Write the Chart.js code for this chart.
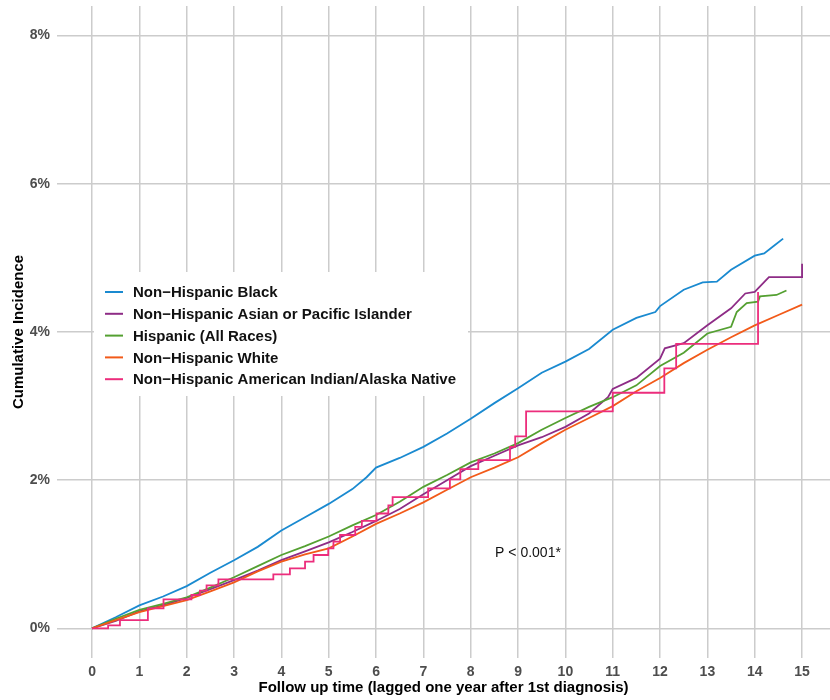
<!DOCTYPE html>
<html>
<head>
<meta charset="utf-8">
<script src="https://cdn.jsdelivr.net/npm/chart.js@4.4.1/dist/chart.umd.min.js"></script>
<style>
html,body{margin:0;padding:0;background:#ffffff;}
#wrap{width:830px;height:700px;position:relative;}
</style>
</head>
<body>
<div id="wrap"><canvas id="c" width="830" height="700"></canvas></div>
<script>
// ---- data (years of follow-up, cumulative incidence in %) ----
const seriesNames = [
  "Non\u2212Hispanic Black",
  "Non\u2212Hispanic Asian or Pacific Islander",
  "Hispanic (All Races)",
  "Non\u2212Hispanic White",
  "Non\u2212Hispanic American Indian/Alaska Native"
];
const seriesColors = ["#1a8ad0", "#8e2c86", "#54a031", "#f25a19", "#ec2d7c"];

const blackT = [0,0.5,1,1.5,2,2.5,3,3.5,4,4.5,5,5.5,5.8,6,6.5,7,7.5,8,8.5,9,9.5,10,10.5,11,11.5,11.9,12,12.5,12.9,13.2,13.5,14,14.2,14.4,14.6];
const blackV = [0,0.15,0.31,0.43,0.57,0.75,0.92,1.1,1.32,1.5,1.68,1.88,2.04,2.17,2.3,2.45,2.63,2.83,3.04,3.24,3.45,3.6,3.77,4.03,4.19,4.27,4.35,4.57,4.67,4.68,4.84,5.03,5.06,5.16,5.26];

const asianT = [0,0.5,1,1.5,2,2.5,3,3.5,4,4.5,5,5.5,6,6.5,7,7.5,8,8.5,9,9.5,10,10.5,10.9,11,11.5,12,12.1,12.5,13,13.5,13.8,14,14.3,15,15];
const asianV = [0,0.1,0.23,0.31,0.41,0.53,0.65,0.78,0.92,1.04,1.16,1.3,1.45,1.61,1.81,2.0,2.19,2.33,2.47,2.58,2.72,2.9,3.12,3.23,3.38,3.64,3.78,3.85,4.09,4.32,4.52,4.54,4.74,4.74,4.92];

const hispT = [0,0.5,1,1.5,2,2.5,3,3.5,4,4.5,5,5.5,6,6.5,7,7.5,8,8.5,9,9.5,10,10.5,11,11.5,12,12.5,13,13.5,13.62,13.83,14.07,14.11,14.46,14.67];
const hispV = [0,0.13,0.25,0.33,0.42,0.55,0.69,0.84,0.99,1.11,1.24,1.39,1.53,1.71,1.91,2.07,2.24,2.36,2.5,2.68,2.84,2.99,3.12,3.28,3.54,3.72,3.98,4.07,4.27,4.39,4.41,4.48,4.5,4.56];

const whiteT = [0,0.5,1,1.5,2,2.5,3,3.5,4,4.5,5,5.5,6,6.5,7,7.5,8,8.5,9,9.5,10,10.5,11,11.5,12,12.5,13,13.5,14,14.5,15];
const whiteV = [0,0.11,0.22,0.3,0.38,0.5,0.62,0.77,0.9,1.0,1.08,1.24,1.41,1.55,1.7,1.87,2.04,2.17,2.31,2.5,2.68,2.84,3.0,3.2,3.38,3.58,3.76,3.93,4.09,4.23,4.37];

const aianT = [0,0.34,0.59,1.18,1.51,2.1,2.28,2.42,2.67,3.83,4.18,4.5,4.68,4.99,5.1,5.24,5.56,5.7,6.01,6.26,6.35,7.1,7.56,7.78,8.16,8.83,8.94,9.17,11.0,12.09,12.34,14.07];
const aianV = [0,0.04,0.11,0.27,0.39,0.45,0.51,0.58,0.66,0.73,0.81,0.9,0.99,1.08,1.17,1.26,1.37,1.45,1.55,1.66,1.77,1.89,2.01,2.15,2.27,2.45,2.59,2.93,3.18,3.51,3.84,4.54];

const xTicks = [0,1,2,3,4,5,6,7,8,9,10,11,12,13,14,15];
const yTicks = [0,2,4,6,8];
const pValueLabel = "P < 0.001*";
const xTitle = "Follow up time (lagged one year after 1st diagnosis)";
const yTitle = "Cumulative Incidence";

// ---- build datasets ----
function pts(t, v){ return t.map((x,i)=>({x:x, y:v[i]})); }
const allT = [blackT, asianT, hispT, whiteT, aianT];
const allV = [blackV, asianV, hispV, whiteV, aianV];
const stepModes = [false, false, false, false, 'before'];
const drawOrder = [5, 4, 3, 2, 1];

const datasets = seriesNames.map((name,i)=>({
  label: name,
  data: pts(allT[i], allV[i]),
  borderColor: seriesColors[i],
  backgroundColor: seriesColors[i],
  borderWidth: 1.8,
  pointRadius: 0,
  fill: false,
  tension: 0,
  stepped: stepModes[i],
  order: drawOrder[i]
}));

const FONT = '"Liberation Sans", Arial, Helvetica, sans-serif';

const overlay = {
  id: 'overlay',
  afterDatasetsDraw(chart){
    const ctx = chart.ctx;
    const xs = chart.scales.x, ys = chart.scales.y;
    ctx.save();
    // legend box
    const bx = 94, by = 272, bw = 374, bh = 124;
    ctx.fillStyle = '#ffffff';
    ctx.fillRect(bx, by, bw, bh);
    ctx.font = 'bold 15px ' + FONT;
    ctx.textBaseline = 'middle';
    ctx.textAlign = 'left';
    const rowY0 = 292, rowH = 21.8;
    seriesNames.forEach((name,i)=>{
      const y = rowY0 + i*rowH;
      ctx.strokeStyle = seriesColors[i];
      ctx.lineWidth = 2;
      ctx.beginPath();
      ctx.moveTo(105, y);
      ctx.lineTo(123, y);
      ctx.stroke();
      ctx.fillStyle = '#111111';
      ctx.fillText(name, 133, y + 1);
    });
    // p-value annotation
    ctx.font = '14px ' + FONT;
    ctx.fillStyle = '#111111';
    ctx.textAlign = 'center';
    ctx.fillText(pValueLabel, xs.getPixelForValue(9.21), ys.getPixelForValue(1.01));
    ctx.restore();
  }
};

new Chart(document.getElementById('c'), {
  type: 'line',
  data: { datasets },
  options: {
    responsive: false,
    animation: false,
    devicePixelRatio: 1,
    layout: { padding: { top: 6, right: 0, bottom: 0, left: 0 } },
    plugins: { legend: { display: false }, tooltip: { enabled: false } },
    scales: {
      x: {
        type: 'linear',
        min: -0.74,
        max: 15.59,
        afterBuildTicks(axis){ axis.ticks = xTicks.map(v=>({value:v})); },
        afterFit(axis){ axis.height = 42; axis.paddingLeft = 0; axis.paddingRight = 0; },
        grid: { color: '#cccccc', lineWidth: 1.5, drawTicks: false },
        border: { display: false },
        ticks: {
          padding: 6,
          maxRotation: 0,
          autoSkip: false,
          color: '#4d4d4d',
          font: { family: FONT, size: 14, weight: 'bold' },
          callback: (v)=> String(v)
        },
        title: {
          display: true,
          text: xTitle,
          color: '#000000',
          font: { family: FONT, size: 15, weight: 'bold' },
          padding: { top: 0, bottom: 3 }
        }
      },
      y: {
        type: 'linear',
        min: -0.4,
        max: 8.4,
        afterBuildTicks(axis){ axis.ticks = yTicks.map(v=>({value:v})); },
        afterFit(axis){ axis.width = 57; axis.paddingTop = 0; axis.paddingBottom = 0; },
        grid: { color: '#cccccc', lineWidth: 1.5, drawTicks: false },
        border: { display: false },
        ticks: {
          padding: 7,
          color: '#4d4d4d',
          font: { family: FONT, size: 14, weight: 'bold' },
          callback: (v)=> v + '%'
        },
        title: {
          display: true,
          text: yTitle,
          color: '#000000',
          font: { family: FONT, size: 15, weight: 'bold' },
          padding: { top: 10, bottom: 0 }
        }
      }
    }
  },
  plugins: [overlay]
});
</script>
</body>
</html>
